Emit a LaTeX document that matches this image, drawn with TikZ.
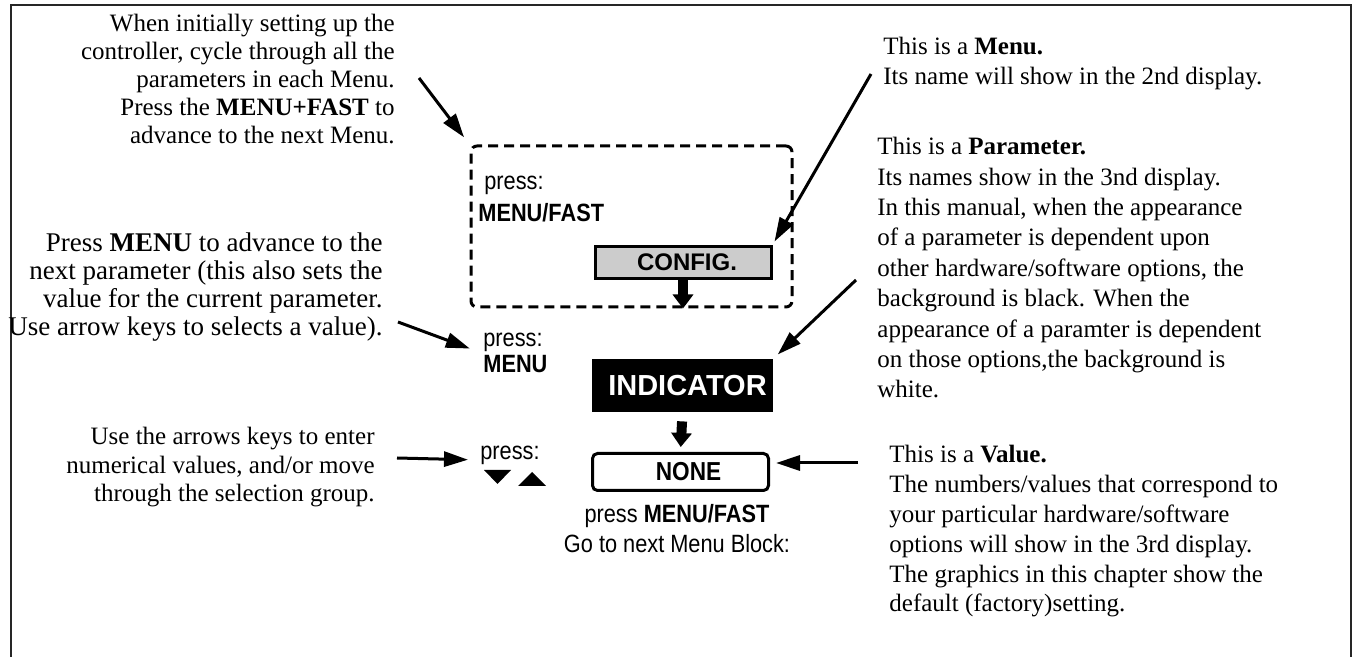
\documentclass[tikz,border=0pt]{standalone}
\usepackage{fontspec}
\setmainfont{Liberation Serif}
\newfontfamily\arialn[FakeStretch=0.87]{Liberation Sans}
\newfontfamily\arial{Liberation Sans}
\usetikzlibrary{arrows.meta,positioning}
\colorlet{frameColor}{black!85}
\colorlet{cfgFill}{black!20}
\tikzset{
  lnote/.style={inner sep=0pt,align=right,font=\fontsize{12.5}{14}\selectfont},
  rnote/.style={inner sep=0pt,align=left,font=\fontsize{12.5}{15.2}\selectfont},
  presslbl/.style={inner sep=0pt,align=left,font=\arialn\fontsize{12.5}{13}\selectfont},
  notearrow/.style={line width=1.5pt,-{Triangle[length=12pt,width=7.5pt]}},
  blockarrow/.style={line width=5pt,-{Triangle[length=7pt,width=10pt]}}
}
\begin{document}
\begin{tikzpicture}[x=0.5pt,y=-0.5pt]
      \useasboundingbox (0,0) rectangle (1356,657);
      \draw [frameColor,line width=1.3pt] (11,657) -- (11,5) -- (1351,5) -- (1351,657);
      % notes on the left (base = last line)
      \node [lnote,anchor=base east] (setup) at (395,144) {When initially setting up the\\controller, cycle through all the\\parameters in each Menu.\\Press the \textbf{MENU+FAST} to\\advance to the next Menu.};
      \node [lnote,anchor=base east,font=\fontsize{13.5}{14}\selectfont] (nextpar) at (383,336) {Press \textbf{MENU} to advance to the\\next parameter (this also sets the\\value for the current parameter.\\Use arrow keys to selects a value).};
      \node [lnote,anchor=base east,font=\fontsize{12.5}{14.25}\selectfont] (keys) at (375,502) {Use the arrows keys to enter\\numerical values, and/or move\\through the selection group.};
      % notes on the right
      \node [rnote,anchor=base west,font=\fontsize{12.5}{15}\selectfont] (menunote) at (883,85) {This is a \textbf{Menu.}\\Its name will show in the 2nd display.};
      \node [rnote,anchor=base west] (parnote) at (877,398) {This is a \textbf{Parameter.}\\Its names show in the 3nd display.\\In this manual, when the appearance\\of a parameter is dependent upon\\other hardware/software options, the\\background is black. When the\\appearance of a paramter is dependent\\on those options,the background is\\white.};
      \node [rnote,anchor=base west,font=\fontsize{12.5}{14.9}\selectfont] (valnote) at (889,612) {This is a \textbf{Value.}\\The numbers/values that correspond to\\your particular hardware/software\\options will show in the 3rd display.\\The graphics in this chapter show the\\default (factory)setting.};
      % menu block
      \node [draw,line width=1.5pt,dash pattern=on 5pt off 3pt,rounded corners=3pt,minimum width=160.5pt,minimum height=80.5pt] (menublk) at (631.5,226.5) {};
      \node [presslbl,anchor=base west] (press1) at (484,190) {press:};
      \node [presslbl,anchor=base west] (menufast) at (478,222) {\bfseries MENU/FAST};
      \node [draw,line width=1.5pt,fill=cfgFill,minimum width=88pt,minimum height=16pt,inner sep=0pt,font=\arial\bfseries\fontsize{12}{12}\selectfont] (config) at (683,262.5) {\hspace{4pt}CONFIG.};
      \draw [blockarrow] (config.south) -- (config.south |- menublk.south);
      % parameter
      \node [presslbl,anchor=base west] (press2) at (483,373) {press:\\\bfseries MENU};
      \node [fill=black,text=white,minimum width=90.5pt,minimum height=26.5pt,inner sep=0pt,font=\arial\bfseries\fontsize{14.5}{14.5}\selectfont] (indicator) at (682.5,385.5) {\hspace{5pt}INDICATOR};
      % value
      \node [presslbl,anchor=base west] (press3) at (480,460) {press:};
      \fill (484,470) -- (511,470) -- (497.5,484) -- cycle;
      \fill (518,486) -- (546,486) -- (532,472) -- cycle;
      \node [draw,line width=1.5pt,rounded corners=2.5pt,minimum width=88pt,minimum height=18.5pt,inner sep=0pt,font=\arialn\bfseries\fontsize{13}{13}\selectfont] (none) at (680.5,472) {\hspace{8pt}NONE};
      \draw [blockarrow,shorten <=4.5pt,shorten >=2.5pt] (indicator.south) -- (none.north);
      \node [presslbl,align=center,anchor=base,font=\arialn\fontsize{12.5}{15}\selectfont] (nextblk) at (677,553) {press \textbf{MENU/FAST}\\Go to next Menu Block:};
      % pointers
      \coordinate (s1) at (419,78);
      \coordinate (s2) at (871,74);
      \coordinate (s3) at (856,280);
      \coordinate (s4) at (398,322);
      \coordinate (s5) at (397,458);
      \coordinate (s6) at (858,463);
      \draw [notearrow,shorten >=4.5pt] (s1) -- (menublk.north west);
      \draw [notearrow,shorten >=2pt] (s2) -- (config.north east);
      \draw [notearrow,shorten >=3pt] (s3) -- (indicator.north east);
      \draw [notearrow,shorten >=7pt] (s4) -- (press2.west);
      \draw [notearrow,shorten >=6pt] (s5) -- (press3.base west);
      \draw [notearrow,shorten >=3pt] (s6) -- (s6 -| none.east);
\end{tikzpicture}
\end{document}
